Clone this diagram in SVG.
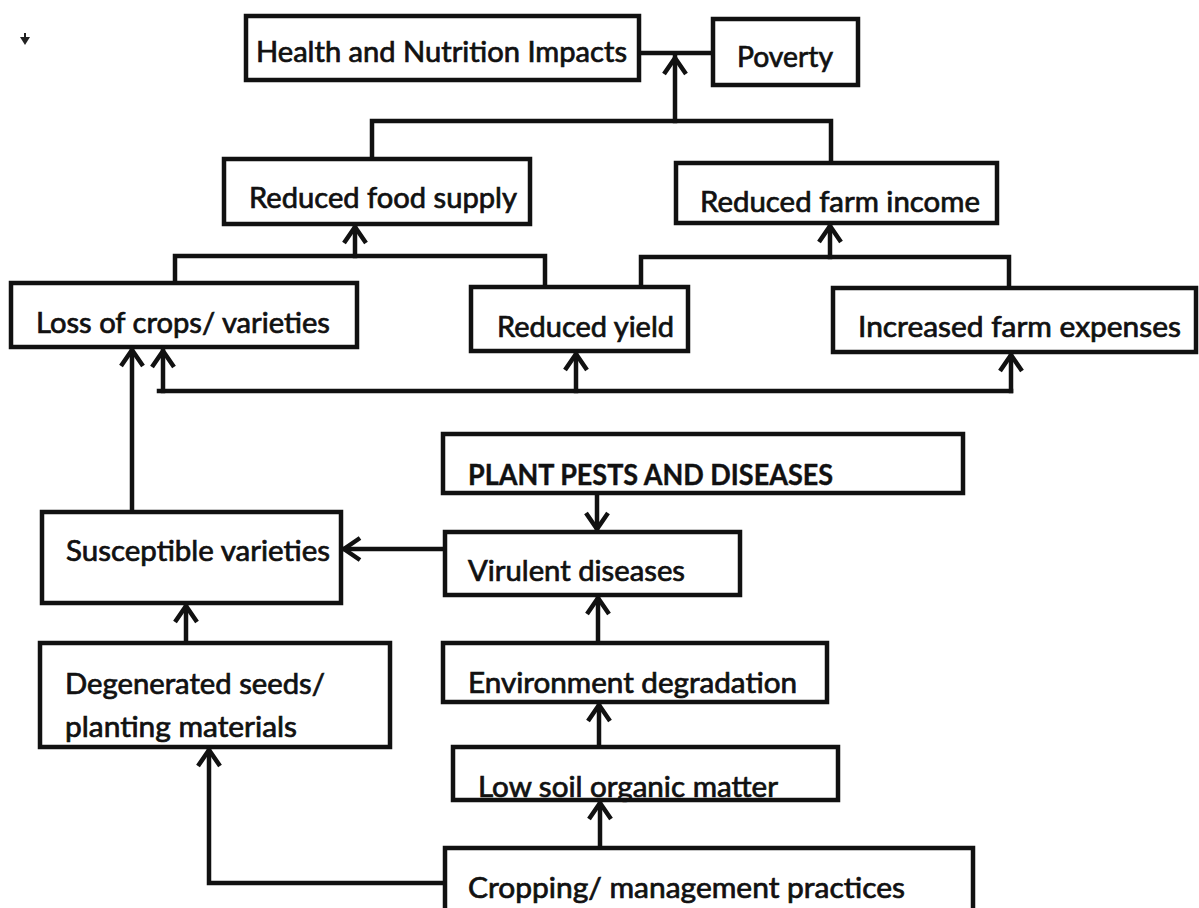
<svg xmlns="http://www.w3.org/2000/svg" width="1199" height="908" viewBox="0 0 1199 908">
<style>
.box rect{fill:#fff;stroke:#111;stroke-width:4.5}
.lbl{font-family:Lato,"Open Sans","Liberation Sans",sans-serif;font-size:28px;fill:#111;stroke:#111;stroke-width:0.7}
.bold{font-weight:bold;stroke-width:0.4}
.con{fill:none;stroke:#111;stroke-width:4.5;stroke-linecap:square}
</style>
<defs>
<marker id="arr" markerUnits="userSpaceOnUse" markerWidth="40" markerHeight="40" viewBox="-20 -20 40 40" refX="0" refY="0" orient="auto" overflow="visible">
<path d="M-17,-11 L-1,0 L-17,11" fill="none" stroke="#111" stroke-width="4.5"/>
</marker>
</defs>
<rect x="0" y="0" width="1199" height="908" fill="#fff"/>
<path d="M20,37 L30,37 L25,45 Z M24,33 L26,33 L26,38 L24,38 Z" fill="#222"/>

<g id="connectors">
<path class="con" d="M640,53 L713,53"/>
<path class="con" d="M372,159 L372,121 L831,121 L831,163"/>
<path class="con" d="M675,121 L675,57" marker-end="url(#arr)"/>
<path class="con" d="M175,283 L175,256 L545,256 L545,287"/>
<path class="con" d="M355,256 L355,226" marker-end="url(#arr)"/>
<path class="con" d="M641,288 L641,257 L1009,257 L1009,288"/>
<path class="con" d="M830,257 L830,225" marker-end="url(#arr)"/>
<path class="con" d="M159,391 L1011,391"/>
<path class="con" d="M163,391 L163,350" marker-end="url(#arr)"/>
<path class="con" d="M576,391 L576,353" marker-end="url(#arr)"/>
<path class="con" d="M1011,391 L1011,354" marker-end="url(#arr)"/>
<path class="con" d="M132,512 L132,349" marker-end="url(#arr)"/>
<path class="con" d="M597,493 L597,530" marker-end="url(#arr)"/>
<path class="con" d="M445,549 L343,549" marker-end="url(#arr)"/>
<path class="con" d="M598,643 L598,597" marker-end="url(#arr)"/>
<path class="con" d="M599,747 L599,704" marker-end="url(#arr)"/>
<path class="con" d="M600,848 L600,802" marker-end="url(#arr)"/>
<path class="con" d="M186,643 L186,605" marker-end="url(#arr)"/>
<path class="con" d="M445,883 L209,883 L209,749" marker-end="url(#arr)"/>
</g>

<g id="health" class="box"><rect x="246" y="16" width="393" height="64"/>
<text class="lbl" x="256" y="62" textLength="371" lengthAdjust="spacingAndGlyphs">Health and Nutrition Impacts</text></g>
<g id="poverty" class="box"><rect x="713" y="19" width="145" height="66"/>
<text class="lbl" x="737" y="67" textLength="96" lengthAdjust="spacingAndGlyphs">Poverty</text></g>
<g id="food" class="box"><rect x="224" y="159" width="306" height="65"/>
<text class="lbl" x="249" y="208" textLength="268" lengthAdjust="spacingAndGlyphs">Reduced food supply</text></g>
<g id="income" class="box"><rect x="676" y="163" width="321" height="60"/>
<text class="lbl" x="700" y="212" textLength="280" lengthAdjust="spacingAndGlyphs">Reduced farm income</text></g>
<g id="loss" class="box"><rect x="11" y="283" width="346" height="64"/>
<text class="lbl" x="36" y="333" textLength="294" lengthAdjust="spacingAndGlyphs">Loss of crops/ varieties</text></g>
<g id="yield" class="box"><rect x="471" y="287" width="217" height="64"/>
<text class="lbl" x="497" y="337" textLength="177" lengthAdjust="spacingAndGlyphs">Reduced yield</text></g>
<g id="expenses" class="box"><rect x="833" y="288" width="363" height="64"/>
<text class="lbl" x="858" y="337" textLength="323" lengthAdjust="spacingAndGlyphs">Increased farm expenses</text></g>
<g id="pests" class="box"><rect x="443" y="434" width="520" height="59"/>
<text class="lbl bold" x="468" y="485" textLength="365" lengthAdjust="spacingAndGlyphs">PLANT PESTS AND DISEASES</text></g>
<g id="susceptible" class="box"><rect x="42" y="512" width="299" height="91"/>
<text class="lbl" x="66" y="561" textLength="264" lengthAdjust="spacingAndGlyphs">Susceptible varieties</text></g>
<g id="virulent" class="box"><rect x="445" y="532" width="295" height="63"/>
<text class="lbl" x="468" y="581" textLength="217" lengthAdjust="spacingAndGlyphs">Virulent diseases</text></g>
<g id="degenerated" class="box"><rect x="40" y="643" width="350" height="104"/>
<text class="lbl" x="65" y="694" textLength="260" lengthAdjust="spacingAndGlyphs">Degenerated seeds/</text>
<text class="lbl" x="65" y="737" textLength="232" lengthAdjust="spacingAndGlyphs">planting materials</text></g>
<g id="environment" class="box"><rect x="443" y="643" width="384" height="59"/>
<text class="lbl" x="468" y="693" textLength="329" lengthAdjust="spacingAndGlyphs">Environment degradation</text></g>
<g id="soil" class="box"><rect x="453" y="747" width="385" height="53"/>
<text class="lbl" x="478" y="797" textLength="300" lengthAdjust="spacingAndGlyphs">Low soil organic matter</text></g>
<g id="cropping" class="box"><rect x="445" y="848" width="528" height="75"/>
<text class="lbl" x="468" y="898" textLength="437" lengthAdjust="spacingAndGlyphs">Cropping/ management practices</text></g>
</svg>
